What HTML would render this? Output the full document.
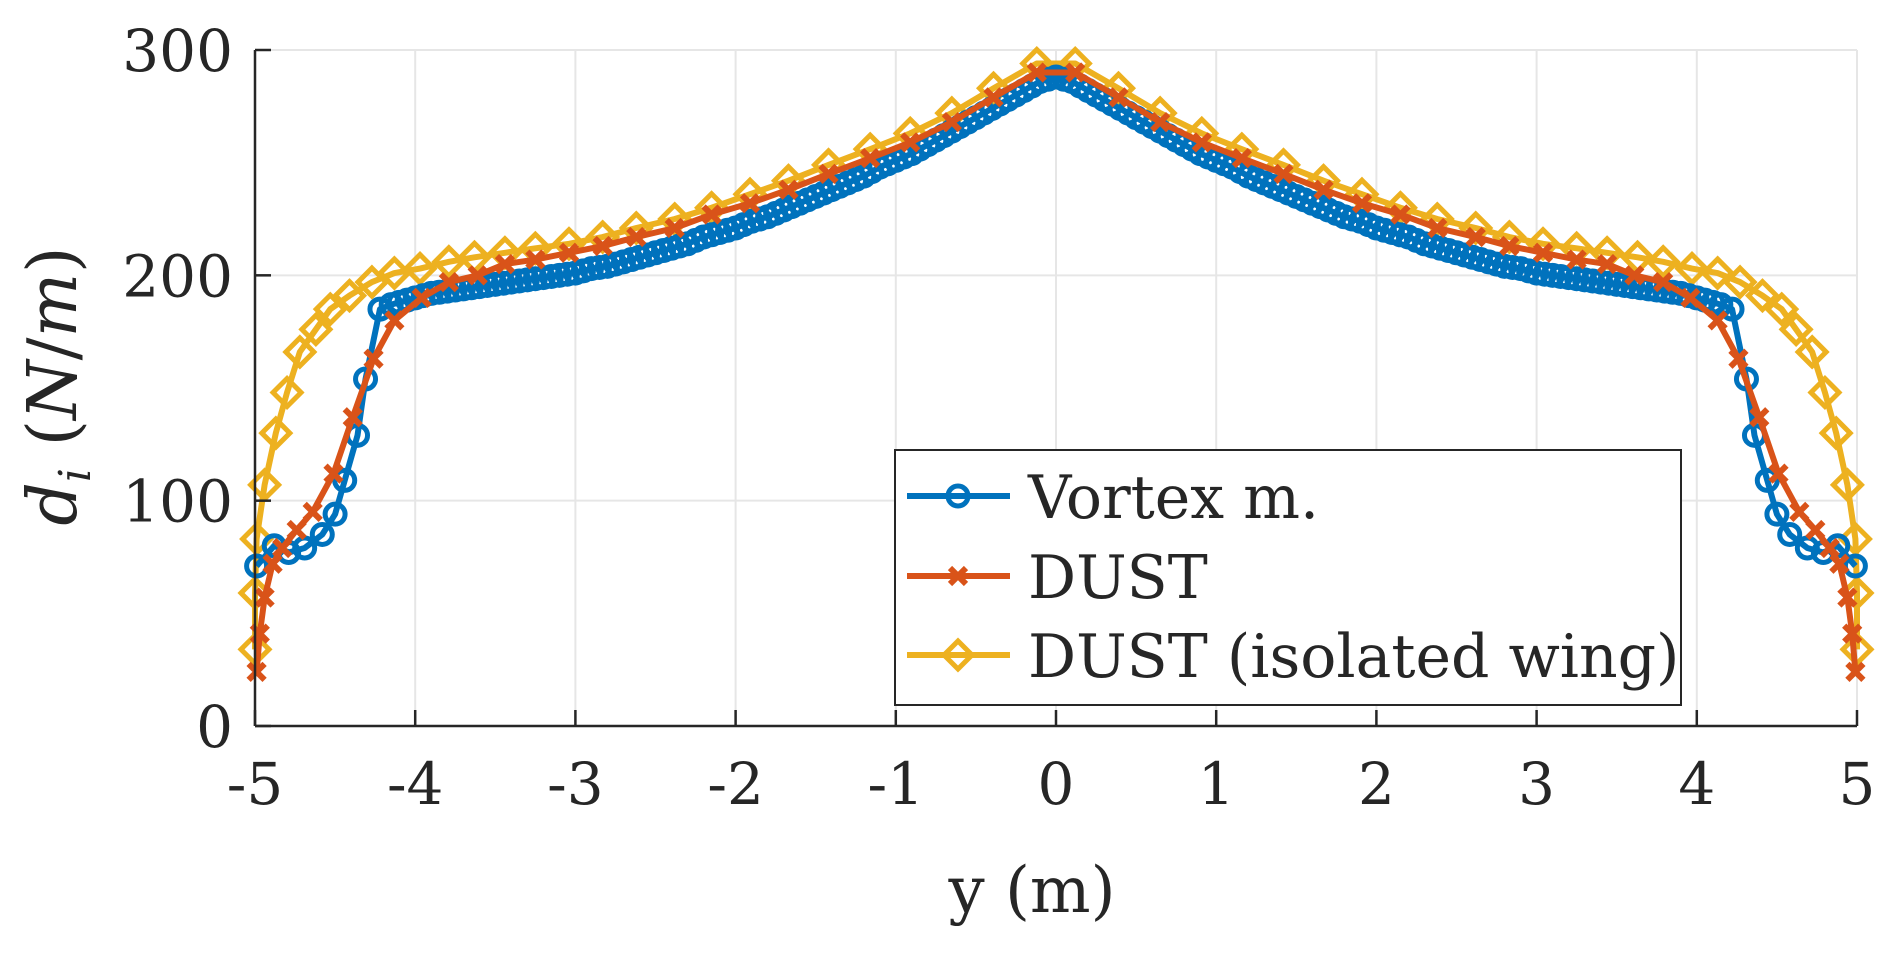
<!DOCTYPE html>
<html><head><meta charset="utf-8"><style>
body{margin:0;background:#fff;}
svg text{font-family:"DejaVu Serif","Liberation Serif",serif;fill:#262626;}
</style></head><body>
<svg id="chart" width="1892" height="950" xmlns="http://www.w3.org/2000/svg">
<g id="grid"></g>
<g id="series"></g>
<g id="axes"></g>
<text x="1032" y="912" font-size="64" text-anchor="middle">y (m)</text>
<text transform="translate(76,386) rotate(-90)" font-size="68" text-anchor="middle"><tspan font-style="italic">d</tspan><tspan font-style="italic" font-size="44" dy="14">i</tspan><tspan dy="-14"> (</tspan><tspan font-style="italic">N</tspan><tspan>/</tspan><tspan font-style="italic">m</tspan><tspan>)</tspan></text>
<g id="legend">
<rect x="895" y="450" width="786" height="255" fill="#fff" stroke="#262626" stroke-width="2"/>
<g>
<line x1="907" y1="496" x2="1010" y2="496" stroke="#0072BD" stroke-width="6"/>
<circle cx="958" cy="496" r="10" fill="none" stroke="#0072BD" stroke-width="5"/>
<text x="1028" y="518" font-size="60">Vortex m.</text></g>
<g>
<line x1="907" y1="576" x2="1010" y2="576" stroke="#D95319" stroke-width="6"/>
<path d="M950 568 L966 584 M966 568 L950 584" stroke="#D95319" stroke-width="6"/>
<text x="1028" y="598" font-size="60">DUST</text></g>
<g>
<line x1="907" y1="655" x2="1010" y2="655" stroke="#EDB120" stroke-width="6"/>
<path d="M958 641 L972 655 L958 669 L944 655 Z" fill="none" stroke="#EDB120" stroke-width="5"/>
<text x="1028" y="677" font-size="60">DUST (isolated wing)</text></g>
</g>
</svg>
<script>
const xTicks=[-5,-4,-3,-2,-1,0,1,2,3,4,5];
const xTickLabels=["-5","-4","-3","-2","-1","0","1","2","3","4","5"];
const yTicks=[0,100,200,300];
const yTickLabels=["0","100","200","300"];
const vortexX=[-4.99,-4.88,-4.79,-4.69,-4.58,-4.50,-4.44,-4.36,-4.31,-4.22,-4.15,-4.1,-4.05,-4.0,-3.95,-3.9,-3.85,-3.8,-3.75,-3.7,-3.65,-3.6,-3.55,-3.5,-3.45,-3.4,-3.35,-3.3,-3.25,-3.2,-3.15,-3.1,-3.05,-3.0,-2.95,-2.9,-2.85,-2.8,-2.75,-2.7,-2.65,-2.6,-2.55,-2.5,-2.45,-2.4,-2.35,-2.3,-2.25,-2.2,-2.15,-2.1,-2.05,-2.0,-1.95,-1.9,-1.85,-1.8,-1.75,-1.7,-1.65,-1.6,-1.55,-1.5,-1.45,-1.4,-1.35,-1.3,-1.25,-1.2,-1.15,-1.1,-1.05,-1.0,-0.95,-0.9,-0.85,-0.8,-0.75,-0.7,-0.65,-0.6,-0.55,-0.5,-0.45,-0.4,-0.35,-0.3,-0.25,-0.2,-0.15,-0.1,-0.05,0.0,0.05,0.1,0.15,0.2,0.25,0.3,0.35,0.4,0.45,0.5,0.55,0.6,0.65,0.7,0.75,0.8,0.85,0.9,0.95,1.0,1.05,1.1,1.15,1.2,1.25,1.3,1.35,1.4,1.45,1.5,1.55,1.6,1.65,1.7,1.75,1.8,1.85,1.9,1.95,2.0,2.05,2.1,2.15,2.2,2.25,2.3,2.35,2.4,2.45,2.5,2.55,2.6,2.65,2.7,2.75,2.8,2.85,2.9,2.95,3.0,3.05,3.1,3.15,3.2,3.25,3.3,3.35,3.4,3.45,3.5,3.55,3.6,3.65,3.7,3.75,3.8,3.85,3.9,3.95,4.0,4.05,4.1,4.15,4.22,4.31,4.36,4.44,4.50,4.58,4.69,4.79,4.88,4.99];
const vortexY=[71,80,77,79,85,94,109,129,154,185,187,188,189,190,191,192,192.5,193,193.5,194,194.5,195,195.5,196,196.5,197,197.5,198,198.5,199,199.5,200,200.5,201,202,203,203.5,204,205,206,207,208,209,210,211,212,213,214,215.5,217,218,219,220,221,222.5,224,225,226,227.5,229,230.5,232,233.5,235,236.5,238,239.5,241,242.5,244,246,248,249.5,251,252.5,254,256,258,260,262,264,266,268,270,272,274,276,278,280,282,284,286,287,288,287,286,284,282,280,278,276,274,272,270,268,266,264,262,260,258,256,254,252.5,251,249.5,248,246,244,242.5,241,239.5,238,236.5,235,233.5,232,230.5,229,227.5,226,225,224,222.5,221,220,219,218,217,215.5,214,213,212,211,210,209,208,207,206,205,204,203.5,203,202,201,200.5,200,199.5,199,198.5,198,197.5,197,196.5,196,195.5,195,194.5,194,193.5,193,192.5,192,191,190,189,188,187,185,154,129,109,94,85,79,77,80,71];
const dustX=[-4.99,-4.97,-4.94,-4.89,-4.83,-4.74,-4.64,-4.51,-4.39,-4.26,-4.13,-3.96,-3.79,-3.61,-3.44,-3.25,-3.04,-2.83,-2.62,-2.38,-2.15,-1.91,-1.67,-1.42,-1.16,-0.91,-0.65,-0.39,-0.12,0.12,0.39,0.65,0.91,1.16,1.42,1.67,1.91,2.15,2.38,2.62,2.83,3.04,3.25,3.44,3.61,3.79,3.96,4.13,4.26,4.39,4.51,4.64,4.74,4.83,4.89,4.94,4.97,4.99];
const dustY=[24,41,57,72,79,87,95,112,137,163,180,190,197,200,205,207,210,213,217,221,227,232,238,245,252,259,268,279,290,290,279,268,259,252,245,238,232,227,221,217,213,210,207,205,200,197,190,180,163,137,112,95,87,79,72,57,41,24];
const isoX=[-5.0,-5.0,-4.99,-4.94,-4.87,-4.80,-4.72,-4.62,-4.53,-4.41,-4.27,-4.13,-3.97,-3.79,-3.63,-3.44,-3.25,-3.04,-2.83,-2.62,-2.38,-2.15,-1.91,-1.67,-1.42,-1.16,-0.91,-0.65,-0.39,-0.12,0.12,0.39,0.65,0.91,1.16,1.42,1.67,1.91,2.15,2.38,2.62,2.83,3.04,3.25,3.44,3.63,3.79,3.97,4.13,4.27,4.41,4.53,4.62,4.72,4.80,4.87,4.94,4.99,5.0,5.0];
const isoY=[34,59,83,107,130,148,166,176,185,191,197,201,203,206,208,210,212,214,217,221,225,230,236,242,249,256,263,272,283,294,294,283,272,263,256,249,242,236,230,225,221,217,214,212,210,208,206,203,201,197,191,185,176,166,148,130,107,83,59,34];

const X0=255,X1=1857,Y0=726,Y1=50;
function sx(v){return X0+(v+5)/10*(X1-X0);}
function sy(v){return Y0-v/300*(Y0-Y1);}
const NS="http://www.w3.org/2000/svg";
function mk(t,a,p){const e=document.createElementNS(NS,t);for(const k in a)e.setAttribute(k,a[k]);p.appendChild(e);return e;}
const grid=document.getElementById('grid'),axes=document.getElementById('axes'),ser=document.getElementById('series');
xTicks.forEach((t,i)=>{
 const g=mk('line',{x1:sx(t),x2:sx(t),y1:Y1,y2:Y0,stroke:'#e6e6e6','stroke-width':2},grid);
 
 
 const tk=mk('line',{x1:sx(t),x2:sx(t),y1:Y0,y2:Y0-16,stroke:'#262626','stroke-width':2.5},axes);
 
 
 const lb=mk('text',{x:sx(t),y:Y0+78,'font-size':58,'text-anchor':'middle'},axes);
 lb.textContent=xTickLabels[i];
 
 
});
yTicks.forEach((t,i)=>{
 const g=mk('line',{x1:X0,x2:X1,y1:sy(t),y2:sy(t),stroke:'#e6e6e6','stroke-width':2},grid);
 
 
 const tk=mk('line',{x1:X0,x2:X0+16,y1:sy(t),y2:sy(t),stroke:'#262626','stroke-width':2.5},axes);
 
 
 const lb=mk('text',{x:X0-22,y:sy(t)+21,'font-size':58,'text-anchor':'end'},axes);
 lb.textContent=yTickLabels[i];
 
 
});
const xa=mk('line',{x1:X0,x2:X1,y1:Y0,y2:Y0,stroke:'#262626','stroke-width':2.5},axes);


const ya=mk('line',{x1:X0,x2:X0,y1:Y1,y2:Y0,stroke:'#262626','stroke-width':2.5},axes);



function drawSeries(xs,ys,color,marker,name){
 const g=mk('g',{},ser);
 
 
 const pl=mk('polyline',{points:xs.map((x,i)=>sx(x)+','+sy(ys[i])).join(' '),fill:'none',stroke:color,'stroke-width':6,'stroke-linejoin':'round'},g);
 
 
 xs.forEach((x,i)=>{
  const cx=sx(x),cy=sy(ys[i]);let m;
  if(marker==='o')m=mk('circle',{cx:cx,cy:cy,r:10,fill:'none',stroke:color,'stroke-width':5},g);
  else if(marker==='x')m=mk('path',{d:`M${cx-8} ${cy-8}L${cx+8} ${cy+8}M${cx+8} ${cy-8}L${cx-8} ${cy+8}`,stroke:color,'stroke-width':6},g);
  else m=mk('path',{d:`M${cx} ${cy-14}L${cx+14} ${cy}L${cx} ${cy+14}L${cx-14} ${cy}Z`,fill:'none',stroke:color,'stroke-width':5},g);
  
  
 });
}
drawSeries(isoX,isoY,'#EDB120','d','dust-isolated-series');
drawSeries(vortexX,vortexY,'#0072BD','o','vortex-series');
drawSeries(dustX,dustY,'#D95319','x','dust-series');
</script>
</body></html>
